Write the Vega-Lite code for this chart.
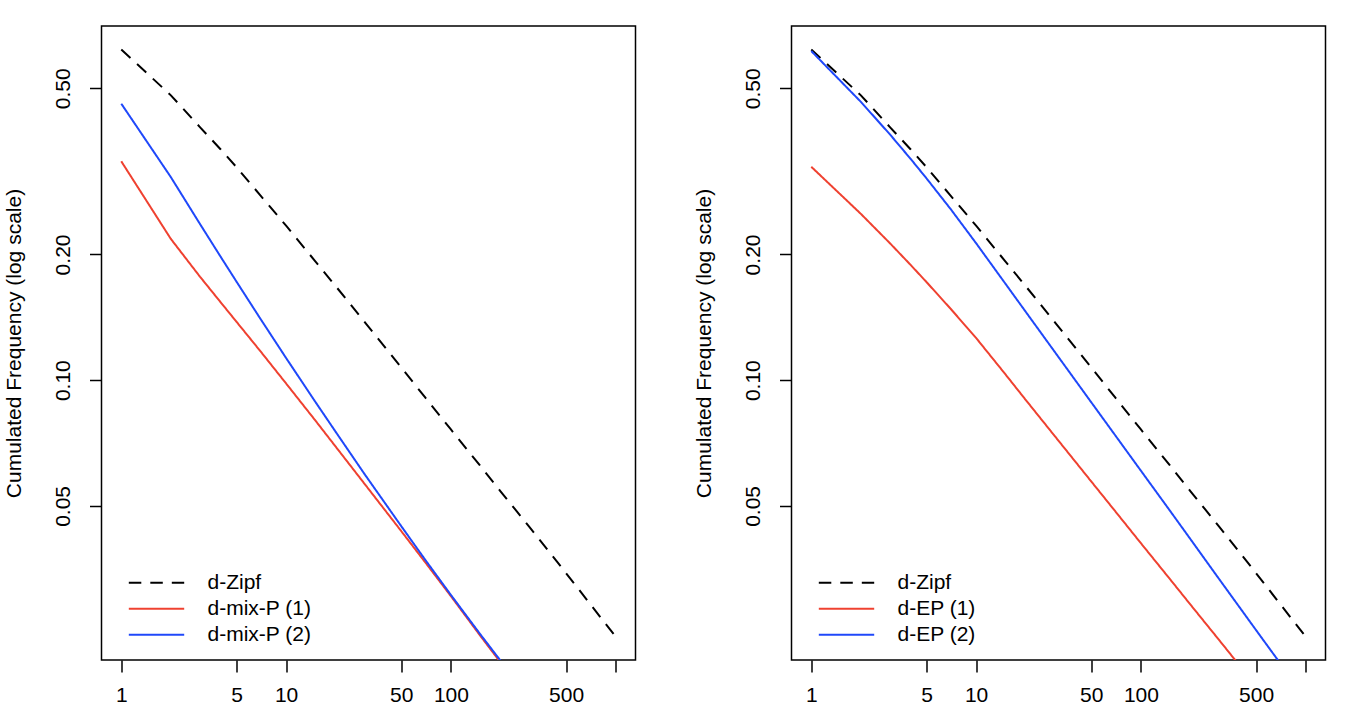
{
  "$schema": "https://vega.github.io/schema/vega-lite/v6.json",
  "padding": {"left": 2.5, "top": 25, "right": 0, "bottom": 0},
  "background": "white",
  "bounds": "flush",
  "spacing": 156,
  "datasets": {
    "left": [
      {"x": 1, "y": 0.6194, "series": "d-Zipf"}, {"x": 2, "y": 0.4808, "series": "d-Zipf"}, {"x": 3, "y": 0.4036, "series": "d-Zipf"}, {"x": 4, "y": 0.3573, "series": "d-Zipf"}, {"x": 5, "y": 0.3236, "series": "d-Zipf"}, {"x": 7, "y": 0.2767, "series": "d-Zipf"}, {"x": 10, "y": 0.2344, "series": "d-Zipf"}, {"x": 15, "y": 0.1928, "series": "d-Zipf"}, {"x": 20, "y": 0.1679, "series": "d-Zipf"}, {"x": 30, "y": 0.1377, "series": "d-Zipf"}, {"x": 50, "y": 0.1072, "series": "d-Zipf"}, {"x": 70, "y": 0.0908, "series": "d-Zipf"}, {"x": 100, "y": 0.0762, "series": "d-Zipf"}, {"x": 150, "y": 0.0625, "series": "d-Zipf"}, {"x": 200, "y": 0.0542, "series": "d-Zipf"}, {"x": 300, "y": 0.0445, "series": "d-Zipf"}, {"x": 500, "y": 0.0345, "series": "d-Zipf"}, {"x": 700, "y": 0.0291, "series": "d-Zipf"}, {"x": 1000, "y": 0.0243, "series": "d-Zipf"},
      {"x": 1, "y": 0.3342, "series": "d-mix-P (1)"}, {"x": 2, "y": 0.2178, "series": "d-mix-P (1)"}, {"x": 3, "y": 0.177, "series": "d-mix-P (1)"}, {"x": 4, "y": 0.1538, "series": "d-mix-P (1)"}, {"x": 5, "y": 0.138, "series": "d-mix-P (1)"}, {"x": 7, "y": 0.1172, "series": "d-mix-P (1)"}, {"x": 10, "y": 0.0982, "series": "d-mix-P (1)"}, {"x": 15, "y": 0.0802, "series": "d-mix-P (1)"}, {"x": 20, "y": 0.0693, "series": "d-mix-P (1)"}, {"x": 30, "y": 0.0564, "series": "d-mix-P (1)"}, {"x": 50, "y": 0.0435, "series": "d-mix-P (1)"}, {"x": 70, "y": 0.0366, "series": "d-mix-P (1)"}, {"x": 100, "y": 0.0304, "series": "d-mix-P (1)"}, {"x": 150, "y": 0.0245, "series": "d-mix-P (1)"}, {"x": 200, "y": 0.0211, "series": "d-mix-P (1)"}, {"x": 300, "y": 0.0172, "series": "d-mix-P (1)"},
      {"x": 1, "y": 0.4592, "series": "d-mix-P (2)"}, {"x": 2, "y": 0.3062, "series": "d-mix-P (2)"}, {"x": 3, "y": 0.2367, "series": "d-mix-P (2)"}, {"x": 4, "y": 0.1977, "series": "d-mix-P (2)"}, {"x": 5, "y": 0.1722, "series": "d-mix-P (2)"}, {"x": 7, "y": 0.1401, "series": "d-mix-P (2)"}, {"x": 10, "y": 0.113, "series": "d-mix-P (2)"}, {"x": 15, "y": 0.0889, "series": "d-mix-P (2)"}, {"x": 20, "y": 0.0752, "series": "d-mix-P (2)"}, {"x": 30, "y": 0.0595, "series": "d-mix-P (2)"}, {"x": 50, "y": 0.0447, "series": "d-mix-P (2)"}, {"x": 70, "y": 0.0371, "series": "d-mix-P (2)"}, {"x": 100, "y": 0.0306, "series": "d-mix-P (2)"}, {"x": 150, "y": 0.0247, "series": "d-mix-P (2)"}, {"x": 200, "y": 0.0213, "series": "d-mix-P (2)"}, {"x": 300, "y": 0.0171, "series": "d-mix-P (2)"}
    ],
    "right": [
      {"x": 1, "y": 0.6194, "series": "d-Zipf"}, {"x": 2, "y": 0.4808, "series": "d-Zipf"}, {"x": 3, "y": 0.4036, "series": "d-Zipf"}, {"x": 4, "y": 0.3573, "series": "d-Zipf"}, {"x": 5, "y": 0.3236, "series": "d-Zipf"}, {"x": 7, "y": 0.2767, "series": "d-Zipf"}, {"x": 10, "y": 0.2344, "series": "d-Zipf"}, {"x": 15, "y": 0.1928, "series": "d-Zipf"}, {"x": 20, "y": 0.1679, "series": "d-Zipf"}, {"x": 30, "y": 0.1377, "series": "d-Zipf"}, {"x": 50, "y": 0.1072, "series": "d-Zipf"}, {"x": 70, "y": 0.0908, "series": "d-Zipf"}, {"x": 100, "y": 0.0762, "series": "d-Zipf"}, {"x": 150, "y": 0.0625, "series": "d-Zipf"}, {"x": 200, "y": 0.0542, "series": "d-Zipf"}, {"x": 300, "y": 0.0445, "series": "d-Zipf"}, {"x": 500, "y": 0.0345, "series": "d-Zipf"}, {"x": 700, "y": 0.0291, "series": "d-Zipf"}, {"x": 1000, "y": 0.0243, "series": "d-Zipf"},
      {"x": 1, "y": 0.3243, "series": "d-EP (1)"}, {"x": 2, "y": 0.2501, "series": "d-EP (1)"}, {"x": 3, "y": 0.2128, "series": "d-EP (1)"}, {"x": 4, "y": 0.1889, "series": "d-EP (1)"}, {"x": 5, "y": 0.1718, "series": "d-EP (1)"}, {"x": 7, "y": 0.1483, "series": "d-EP (1)"}, {"x": 10, "y": 0.1262, "series": "d-EP (1)"}, {"x": 15, "y": 0.1035, "series": "d-EP (1)"}, {"x": 20, "y": 0.0897, "series": "d-EP (1)"}, {"x": 30, "y": 0.0735, "series": "d-EP (1)"}, {"x": 50, "y": 0.0572, "series": "d-EP (1)"}, {"x": 70, "y": 0.0485, "series": "d-EP (1)"}, {"x": 100, "y": 0.0407, "series": "d-EP (1)"}, {"x": 150, "y": 0.0334, "series": "d-EP (1)"}, {"x": 200, "y": 0.029, "series": "d-EP (1)"}, {"x": 300, "y": 0.0238, "series": "d-EP (1)"}, {"x": 500, "y": 0.0185, "series": "d-EP (1)"},
      {"x": 1, "y": 0.6138, "series": "d-EP (2)"}, {"x": 2, "y": 0.4638, "series": "d-EP (2)"}, {"x": 3, "y": 0.3877, "series": "d-EP (2)"}, {"x": 4, "y": 0.339, "series": "d-EP (2)"}, {"x": 5, "y": 0.3043, "series": "d-EP (2)"}, {"x": 7, "y": 0.257, "series": "d-EP (2)"}, {"x": 10, "y": 0.2128, "series": "d-EP (2)"}, {"x": 15, "y": 0.1706, "series": "d-EP (2)"}, {"x": 20, "y": 0.1458, "series": "d-EP (2)"}, {"x": 30, "y": 0.1169, "series": "d-EP (2)"}, {"x": 50, "y": 0.0885, "series": "d-EP (2)"}, {"x": 70, "y": 0.0737, "series": "d-EP (2)"}, {"x": 100, "y": 0.0607, "series": "d-EP (2)"}, {"x": 150, "y": 0.0487, "series": "d-EP (2)"}, {"x": 200, "y": 0.0416, "series": "d-EP (2)"}, {"x": 300, "y": 0.0333, "series": "d-EP (2)"}, {"x": 500, "y": 0.0252, "series": "d-EP (2)"}, {"x": 700, "y": 0.021, "series": "d-EP (2)"}
    ]
  },
  "hconcat": [
    {
      "width": 534,
      "height": 634,
      "data": {"name": "left"},
      "mark": {"type": "line", "clip": true, "strokeWidth": 2},
      "encoding": {
        "x": {"field": "x", "type": "quantitative", "scale": {"type": "log", "domain": [0.7586, 1318.3], "nice": false, "zero": false},
              "axis": {"title": null, "values": [1, 5, 10, 50, 100, 500, 1000], "format": "d", "labelExpr": "datum.value == 1000 ? '' : datum.label"}},
        "y": {"field": "y", "type": "quantitative", "scale": {"type": "log", "domain": [0.02138, 0.7047], "nice": false, "zero": false},
              "axis": {"title": "Cumulated Frequency (log scale)", "values": [0.05, 0.1, 0.2, 0.5], "format": ".2f"}},
        "color": {"field": "series", "type": "nominal", "sort": null,
                  "scale": {"domain": ["d-Zipf", "d-mix-P (1)", "d-mix-P (2)"], "range": ["#000000", "#EF4130", "#1F48FA"]},
                  "legend": {"title": null, "orient": "none", "legendX": 26, "legendY": 544}},
        "strokeDash": {"field": "series", "type": "nominal", "sort": null,
                  "scale": {"domain": ["d-Zipf", "d-mix-P (1)", "d-mix-P (2)"], "range": [[12.5, 9], [1, 0], [1, 0]]},
                  "legend": {"title": null, "orient": "none", "legendX": 26, "legendY": 544}}
      }
    },
    {
      "width": 534,
      "height": 634,
      "data": {"name": "right"},
      "mark": {"type": "line", "clip": true, "strokeWidth": 2},
      "encoding": {
        "x": {"field": "x", "type": "quantitative", "scale": {"type": "log", "domain": [0.7586, 1318.3], "nice": false, "zero": false},
              "axis": {"title": null, "values": [1, 5, 10, 50, 100, 500, 1000], "format": "d", "labelExpr": "datum.value == 1000 ? '' : datum.label"}},
        "y": {"field": "y", "type": "quantitative", "scale": {"type": "log", "domain": [0.02138, 0.7047], "nice": false, "zero": false},
              "axis": {"title": "Cumulated Frequency (log scale)", "values": [0.05, 0.1, 0.2, 0.5], "format": ".2f"}},
        "color": {"field": "series", "type": "nominal", "sort": null,
                  "scale": {"domain": ["d-Zipf", "d-EP (1)", "d-EP (2)"], "range": ["#000000", "#EF4130", "#1F48FA"]},
                  "legend": {"title": null, "orient": "none", "legendX": 26, "legendY": 544}},
        "strokeDash": {"field": "series", "type": "nominal", "sort": null,
                  "scale": {"domain": ["d-Zipf", "d-EP (1)", "d-EP (2)"], "range": [[12.5, 9], [1, 0], [1, 0]]},
                  "legend": {"title": null, "orient": "none", "legendX": 26, "legendY": 544}}
      }
    }
  ],
  "resolve": {
    "scale": {"x": "independent", "y": "independent", "color": "independent", "strokeDash": "independent"},
    "axis": {"x": "independent", "y": "independent"},
    "legend": {"color": "independent", "strokeDash": "independent"}
  },
  "config": {
    "font": "Liberation Sans",
    "view": {"stroke": "#000000", "strokeWidth": 1.5},
    "axis": {
      "domain": false, "grid": false, "ticks": true, "tickColor": "#000000", "tickSize": 12, "tickWidth": 1.5,
      "labelFont": "Liberation Sans", "labelFontSize": 21, "labelColor": "#000000", "labelFlush": false, "labelOverlap": false,
      "titleFont": "Liberation Sans", "titleFontSize": 21, "titleFontWeight": "normal", "titleColor": "#000000"
    },
    "axisX": {"labelPadding": 12},
    "axisY": {"labelAngle": -90, "labelAlign": "center", "labelBaseline": "alphabetic", "labelPadding": 20, "titlePadding": 28},
    "legend": {
      "symbolType": "M-1,0L1,0", "symbolSize": 3069, "symbolStrokeWidth": 2, "symbolStrokeColor": "#000000",
      "labelFont": "Liberation Sans", "labelFontSize": 21, "labelColor": "#000000", "labelOffset": 22,
      "rowPadding": 0, "clipHeight": 25.7, "padding": 0, "labelLimit": 300
    }
  }
}
